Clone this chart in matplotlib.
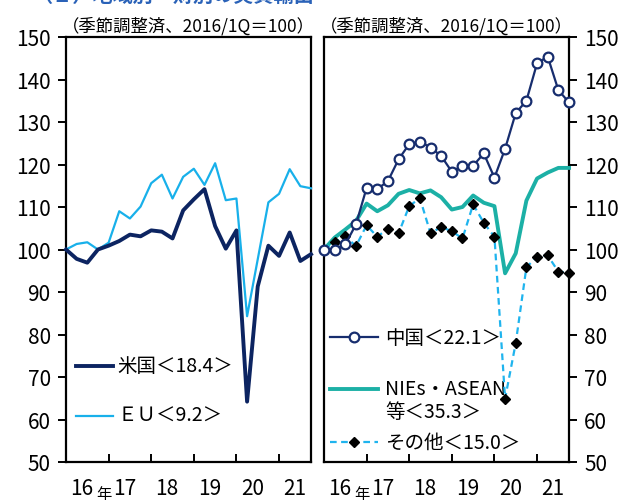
import matplotlib
matplotlib.use('Agg')
import matplotlib.pyplot as plt
from matplotlib.lines import Line2D

# Fonts: Japanese gothic for everything
plt.rcParams['font.family'] = ['Noto Sans CJK JP', 'DejaVu Sans']
plt.rcParams['font.size'] = 14

# quarters 2016Q1 .. 2021Q4 (index 0..23)
quarters = list(range(24))
year_labels = ['16', '17', '18', '19', '20', '21']

# left panel
us = [100, 97.8, 96.9, 100, 100.9, 102, 103.5, 103.1, 104.5, 104.2, 102.6, 109.2,
      111.8, 114.2, 105.5, 100.2, 104.5, 64.2, 91.3, 100.9, 98.5, 104.0, 97.3, 98.9]
eu = [100, 101.3, 101.7, 100, 101.6, 109, 107.3, 110.1, 115.6, 117.6, 112, 117.1,
      119, 115.2, 120.3, 111.6, 112.0, 84.3, 97.7, 111.1, 113.1, 118.9, 114.9, 114.4]

# right panel
china = [100, 100, 101.2, 105.9, 114.5, 114.2, 116.1, 121.2, 124.8, 125.4, 124, 122,
         118.3, 119.7, 119.7, 122.6, 116.9, 123.7, 132.1, 135, 143.8, 145.4, 137.5, 134.6]
nies = [100, 102.8, 104.7, 106.7, 110.8, 109, 110.4, 113.1, 114, 113.2, 113.9, 112.3,
        109.4, 110, 112.7, 111, 110.2, 94.4, 99.1, 111.5, 116.7, 118.1, 119.2, 119.2]
others = [100, 101.7, 103.1, 100.8, 105.7, 103, 104.9, 103.8, 110.2, 112.1, 103.8, 105.3,
          104.3, 102.6, 110.6, 106.3, 103.0, 64.9, 78.0, 95.8, 98.3, 98.6, 94.8, 94.5]

lbl_us = '米国＜18.4＞'
lbl_eu = 'ＥＵ＜9.2＞'
lbl_china = '中国＜22.1＞'
lbl_nies = 'NIEs・ASEAN\n等＜35.3＞'
lbl_others = 'その他＜15.0＞'
subtitle = '（季節調整済、2016/1Q＝100）'

c_us = '#0c2461'
c_eu = '#18b0ea'
c_china = '#172d6e'
c_nies = '#1cb0a6'
c_oth = '#1fb4ee'

fig = plt.figure(figsize=(6.3, 5.02), dpi=100)
ax1 = fig.add_axes([66/630, 39/502, 245/630, 425/502])
ax2 = fig.add_axes([324/630, 39/502, 245/630, 425/502])

# cut-off heading at the very top
fig.text(33/630, 1 - 6/502, '（２）地域別・財別の実質輸出', color='#2a62b8',
         fontsize=14.5, fontweight='bold', va='bottom', ha='left')

for ax in (ax1, ax2):
    ax.set_xlim(0, 23)
    ax.set_ylim(50, 150)
    ax.set_yticks(range(50, 151, 10))
    for s in ax.spines.values():
        s.set_linewidth(1.6)
    ax.set_xticks([4, 8, 12, 16, 20])
    ax.set_xticklabels([])
    ax.tick_params(axis='x', which='major', direction='in', length=6, width=1.4)
    ax.set_xticks([1.5 + 4 * k for k in range(6)], minor=True)
    ax.set_xticklabels(year_labels, minor=True, fontsize=15)
    ax.tick_params(axis='x', which='minor', length=0, pad=11)
    # "年" under the first label
    ax.text(3.6, -0.075, '年', transform=ax.get_xaxis_transform(),
            fontsize=11, ha='center', va='center')
    ax.set_title(subtitle, fontsize=12.5, pad=5)

ax1.tick_params(axis='y', direction='out', length=6, width=1.4, labelsize=15, pad=5)
ax2.yaxis.tick_right()
ax2.tick_params(axis='y', direction='out', length=6, width=1.4, labelsize=15, pad=5)

# left: US / EU
ax1.plot(quarters, eu, color=c_eu, lw=1.6, clip_on=False, zorder=3)
ax1.plot(quarters, us, color=c_us, lw=2.8, clip_on=False, zorder=4)

# right: China / NIEs / others
ax2.plot(quarters, nies, color=c_nies, lw=2.8, clip_on=False, zorder=3)
ax2.plot(quarters, others, color=c_oth, lw=1.6, ls=(0, (3, 2)), marker='D',
         ms=5.5, mfc='black', mec='black', clip_on=False, zorder=4)
ax2.plot(quarters, china, color=c_china, lw=1.6, marker='o', ms=7,
         mfc='white', mec=c_china, mew=1.6, clip_on=False, zorder=5)

# hand-made legends
def key(ax, y, x0, x1, text, tx, **kw):
    ax.add_line(Line2D([x0, x1], [y, y], transform=ax.transAxes, **kw))
    ax.text(tx, y, text, transform=ax.transAxes, fontsize=14, va='center', ha='left',
            linespacing=1.05)

key(ax1, 0.227, 0.04, 0.19, lbl_us, 0.21, color=c_us, lw=2.8)
key(ax1, 0.109, 0.04, 0.19, lbl_eu, 0.21, color=c_eu, lw=1.6)

ax2.add_line(Line2D([0.024, 0.122, 0.22], [0.294] * 3, transform=ax2.transAxes,
                    color=c_china, lw=1.6, marker='o', ms=7, mfc='white',
                    mec=c_china, mew=1.6, markevery=[1]))
ax2.text(0.25, 0.294, lbl_china, transform=ax2.transAxes, fontsize=14, va='center')
ax2.add_line(Line2D([0.024, 0.22], [0.172] * 2, transform=ax2.transAxes,
                    color=c_nies, lw=2.8))
ax2.text(0.25, 0.172, lbl_nies.split('\n')[0], transform=ax2.transAxes, fontsize=14,
         va='center')
ax2.text(0.25, 0.118, lbl_nies.split('\n')[1], transform=ax2.transAxes, fontsize=14,
         va='center')
ax2.add_line(Line2D([0.024, 0.122, 0.22], [0.047] * 3, transform=ax2.transAxes,
                    color=c_oth, lw=1.6, ls=(0, (3, 2)), marker='D', ms=5.5,
                    mfc='black', mec='black', markevery=[1]))
ax2.text(0.25, 0.047, lbl_others, transform=ax2.transAxes, fontsize=14, va='center')

fig.savefig('out.png', dpi=100)
